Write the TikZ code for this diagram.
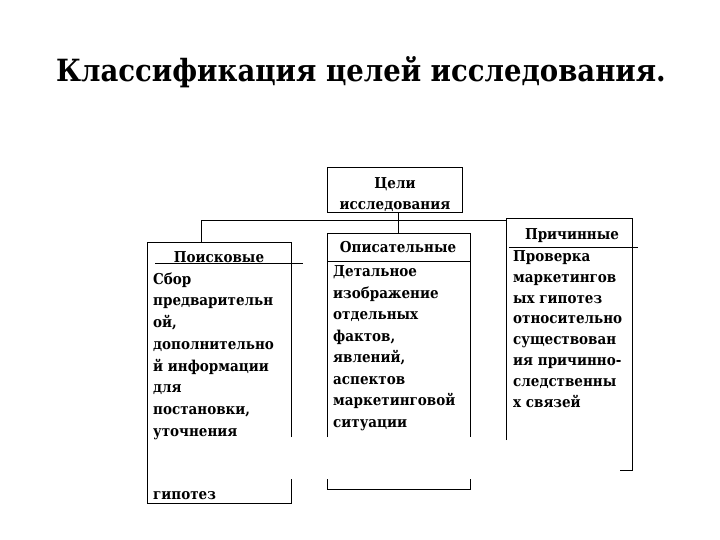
\documentclass[tikz,border=0pt]{standalone}
\usepackage{fontspec}
\setmainfont{DejaVu Serif Condensed}
\begin{document}
\begin{tikzpicture}[x=1pt,y=-1pt,
  ln/.style={line width=1pt,black},
  txt/.style={anchor=base west,inner sep=0pt,font=\fontsize{15}{18}\bfseries},
  hdr/.style={anchor=base,inner sep=0pt,font=\fontsize{15}{18}\bfseries},
  ttl/.style={anchor=base,inner sep=0pt,font=\fontsize{30.6}{38}\bfseries}]
\useasboundingbox (0,0) rectangle (720,540);
\fill[white] (0,0) rectangle (720,540);
% title
\node[ttl] (title) at (361,82) {Классификация целей исследования.};
% top box
\draw[ln] (327,168) rectangle (462,213);
\node[hdr] (t1) at (395,189) {Цели};
\node[hdr] (t2) at (395,209.5) {исследования};
\coordinate (tb) at (398,213);
\coordinate (hl) at (201,221);
\coordinate (hr) at (506,221);
\coordinate (hc) at (398,233);
\coordinate (pl) at (201,242);
\draw[ln] (tb) -- (hc);
\draw[ln] (pl) -- (hl) -- (hr);
% Поисковые box
\draw[ln] (291,437) -- (291,242) -- (147,242) -- (147,503) -- (291,503) -- (291,479);
\draw[ln] (155,263) -- (303,263);
\node[hdr] (ph) at (219,262.5) {Поисковые};
\foreach \t [count=\i] in {Сбор,предварительн,{ой,},дополнительно,й информации,для,{постановки,},уточнения}
  \node[txt] (p\i) at (153,{284+(\i-1)*21.75}) {\t};
\node[txt] (p9) at (153,499) {гипотез};
% Описательные box
\draw[ln] (327,437) -- (327,233) -- (470,233) -- (470,437);
\draw[ln] (327,479) -- (327,489) -- (470,489) -- (470,479);
\draw[ln] (327,261) -- (470,261);
\node[hdr] (oh) at (398,252.5) {Описательные};
\foreach \t [count=\i] in {Детальное,изображение,отдельных,{фактов,},{явлений,},аспектов,маркетинговой,ситуации}
  \node[txt] (o\i) at (333,{276.5+(\i-1)*21.5}) {\t};
% Причинные box
\draw[ln] (506,440) -- (506,219) -- (632,219) -- (632,470) -- (620,470);
\draw[ln] (509,247) -- (638,247);
\node[hdr] (ch) at (572,239.5) {Причинные};
\foreach \t [count=\i] in {Проверка,маркетингов,ых гипотез,относительно,существован,ия причинно-,следственны,х связей}
  \node[txt] (c\i) at (513,{261.5+(\i-1)*20.8}) {\t};
\end{tikzpicture}
\end{document}
